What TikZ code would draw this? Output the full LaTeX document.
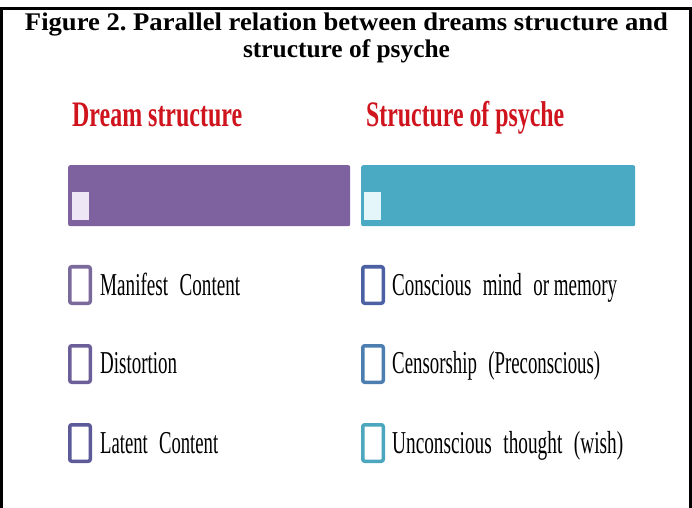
\documentclass[tikz,border=0pt]{standalone}
\usepackage{fontspec}
\setmainfont{Liberation Serif}
\usepackage{graphicx}
\newcommand{\fitw}[2]{\resizebox{#1}{\height}{#2}}
\newcommand{\wgap}{\hspace{0.6em}}
\definecolor{hred}{HTML}{D0141E}
\definecolor{barpurple}{HTML}{7E62A0}
\definecolor{barcyan}{HTML}{4AAAC4}
\definecolor{lavfill}{HTML}{EEE6F4}
\definecolor{cyfill}{HTML}{E4F6FA}
\definecolor{sqA}{HTML}{7A6A9C}
\definecolor{sqB}{HTML}{6C5E98}
\definecolor{sqC}{HTML}{5C5A98}
\definecolor{sqD}{HTML}{4C60A4}
\definecolor{sqE}{HTML}{4C7EB0}
\definecolor{sqF}{HTML}{4CA6BE}
\frenchspacing
\begin{document}
\begin{tikzpicture}[x=1bp,y=-1bp,
  titletext/.style={anchor=base,inner sep=0,font=\bfseries\fontsize{25.5}{30}\selectfont},
  heading/.style={anchor=base west,inner sep=0,text=hred,font=\bfseries\fontsize{36}{40}\selectfont},
  barbox/.style={anchor=north west,inner sep=0,minimum width=282bp,minimum height=61bp,rounded corners=2bp},
  minisq/.style={anchor=north west,inner sep=0,minimum width=17bp,minimum height=28bp},
  itemsq/.style={draw,fill=white,line width=3.5bp,inner sep=0,minimum width=20.5bp,minimum height=36.5bp,rounded corners=2bp},
  itemtext/.style={anchor=base west,inner sep=0,font=\fontsize{32}{36}\selectfont}]
\useasboundingbox (0,0) rectangle (692,508);
\fill[white] (0,0) rectangle (692,508);
\draw[line width=2.5bp] (1.3,508) -- (1.3,8.3) -- (690.7,8.3) -- (690.7,508);
% title
\node[titletext] (t1) at (346.5,31) {\fitw{643bp}{Figure 2. Parallel relation between dreams structure and}};
\node[titletext] (t2) at (346.5,58) {structure of psyche};
% headings
\node[heading] (h1) at (72,127) {\fitw{170bp}{Dream structure}};
\node[heading] (h2) at (366,127) {\fitw{198bp}{Structure of psyche}};
% bars
\node[barbox,fill=barpurple] (b1) at (68,165) {};
\node[barbox,fill=barcyan,minimum width=274bp] (b2) at (361,165) {};
\node[minisq,fill=lavfill] (m1) at (72,192) {};
\node[minisq,fill=cyfill] (m2) at (364,192) {};
% left items
\node[itemsq,draw=sqA] (l1) at (80,285) {};
\node[itemsq,draw=sqB] (l2) at (80,364) {};
\node[itemsq,draw=sqC] (l3) at (80,443) {};
\node[itemtext] (lt1) at (100,295) {\fitw{140bp}{Manifest\wgap Content}};
\node[itemtext] (lt2) at (100,373) {\fitw{77bp}{Distortion}};
\node[itemtext] (lt3) at (100,453) {\fitw{118bp}{Latent\wgap Content}};
% right items
\node[itemsq,draw=sqD] (r1) at (373,285) {};
\node[itemsq,draw=sqE] (r2) at (373,364) {};
\node[itemsq,draw=sqF] (r3) at (373,443) {};
\node[itemtext] (rt1) at (392,295) {\fitw{225bp}{Conscious\wgap mind\wgap or memory}};
\node[itemtext] (rt2) at (392,373) {\fitw{208bp}{Censorship\wgap (Preconscious)}};
\node[itemtext] (rt3) at (392,453) {\fitw{231bp}{Unconscious\wgap thought\wgap (wish)}};
\end{tikzpicture}
\end{document}
